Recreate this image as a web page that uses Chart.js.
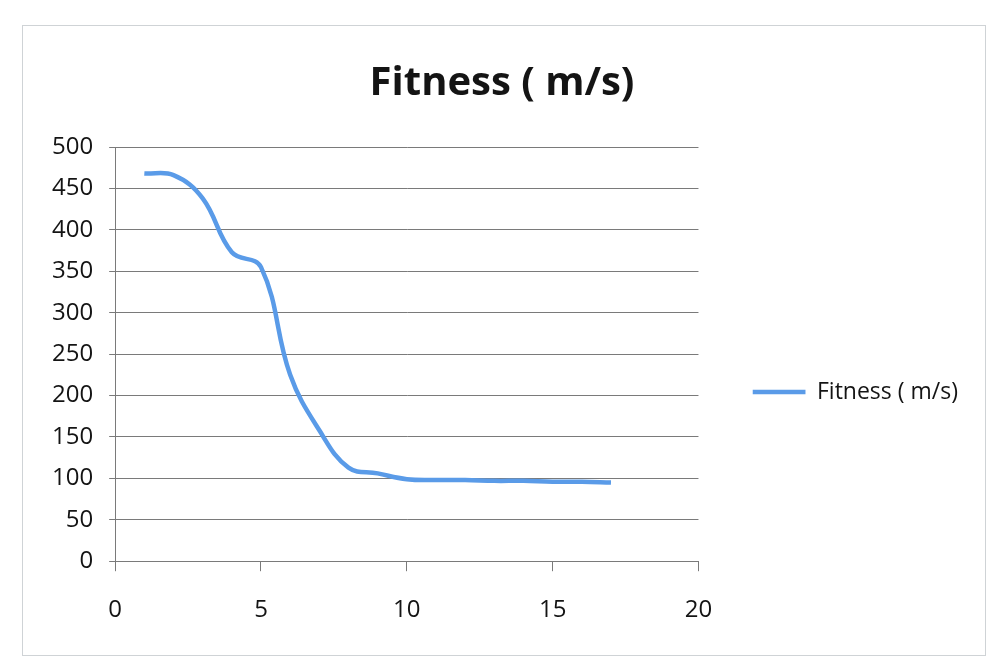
<!DOCTYPE html>
<html>
<head>
<meta charset="utf-8">
<script src="https://cdn.jsdelivr.net/npm/chart.js@4.4.1/dist/chart.umd.min.js"></script>
<style>
  body { margin: 0; background: #fff; }
  #wrap { position: relative; width: 993px; height: 665px; }
  #frame { position: absolute; left: 22px; top: 25px; width: 962px; height: 629px; border: 1px solid #cfd3d6; }
  canvas { position: absolute; left: 0; top: 0; }
</style>
</head>
<body>
<div id="wrap">
  <div id="frame"></div>
  <canvas id="fitnessChart" width="993" height="665"></canvas>
</div>
<script>
const iterations = [1, 2, 3, 4, 5, 6, 7, 8, 9, 10, 11, 12, 13, 14, 15, 16, 17];
const fitness = [468, 466, 438, 373, 355, 225, 158, 113, 106, 99, 98, 98, 97, 97, 96, 96, 95];
const seriesName = "Fitness ( m/s)";
const xTicks = [0, 5, 10, 15, 20];
const yTicks = [0, 50, 100, 150, 200, 250, 300, 350, 400, 450, 500];

const textColor = "#141414";
const gridColor = "#7a7a7a";
const fontFamily = "'Open Sans', sans-serif";

function createChart(id) {
  const ctx = document.getElementById(id);
  return new Chart(ctx, {
    type: "line",
    data: {
      datasets: [{
        label: seriesName,
        data: iterations.map((x, i) => ({ x: x, y: fitness[i] })),
        borderColor: "#5a9be8",
        backgroundColor: "#5a9be8",
        borderWidth: 4.5,
        pointRadius: 0,
        pointStyle: "line",
        tension: 0.4,
        fill: false
      }]
    },
    options: {
      responsive: false,
      animation: false,
      layout: { padding: { left: 36, right: 25, top: 32, bottom: 15 } },
      plugins: {
        title: {
          display: true,
          text: seriesName,
          color: textColor,
          font: { family: fontFamily, size: 40, weight: "bold" },
          padding: { top: 28, bottom: 39 }
        },
        legend: {
          position: "right",
          maxWidth: 320,
          // blank title, only pushes the legend item down
          title: {
            display: true,
            text: " ",
            font: { size: 10 },
            padding: { top: 45, bottom: 45 }
          },
          labels: {
            color: textColor,
            font: { family: fontFamily, size: 23 },
            usePointStyle: true,
            pointStyleWidth: 53,
            boxHeight: 10,
            padding: 0
          }
        },
        tooltip: { enabled: false }
      },
      scales: {
        x: {
          type: "linear",
          min: 0,
          max: 20,
          afterBuildTicks: (axis) => { axis.ticks = xTicks.map(v => ({ value: v })); },
          ticks: { color: textColor, font: { family: fontFamily, size: 24 }, padding: 25 },
          grid: { drawOnChartArea: false, color: gridColor, tickLength: 10 },
          border: { color: gridColor }
        },
        y: {
          min: 0,
          max: 500,
          afterBuildTicks: (axis) => { axis.ticks = yTicks.map(v => ({ value: v })); },
          ticks: { color: textColor, font: { family: fontFamily, size: 24 }, padding: 16 },
          grid: { color: gridColor, tickLength: 6 },
          border: { color: gridColor }
        },
        // empty axis on the right, only keeps a gap before the legend
        gap: {
          axis: "y",
          position: "right",
          display: true,
          ticks: { display: false },
          grid: { display: false },
          border: { display: false },
          afterFit: (scale) => { scale.width = 54; }
        }
      }
    }
  });
}

createChart("fitnessChart");
</script>
</body>
</html>
